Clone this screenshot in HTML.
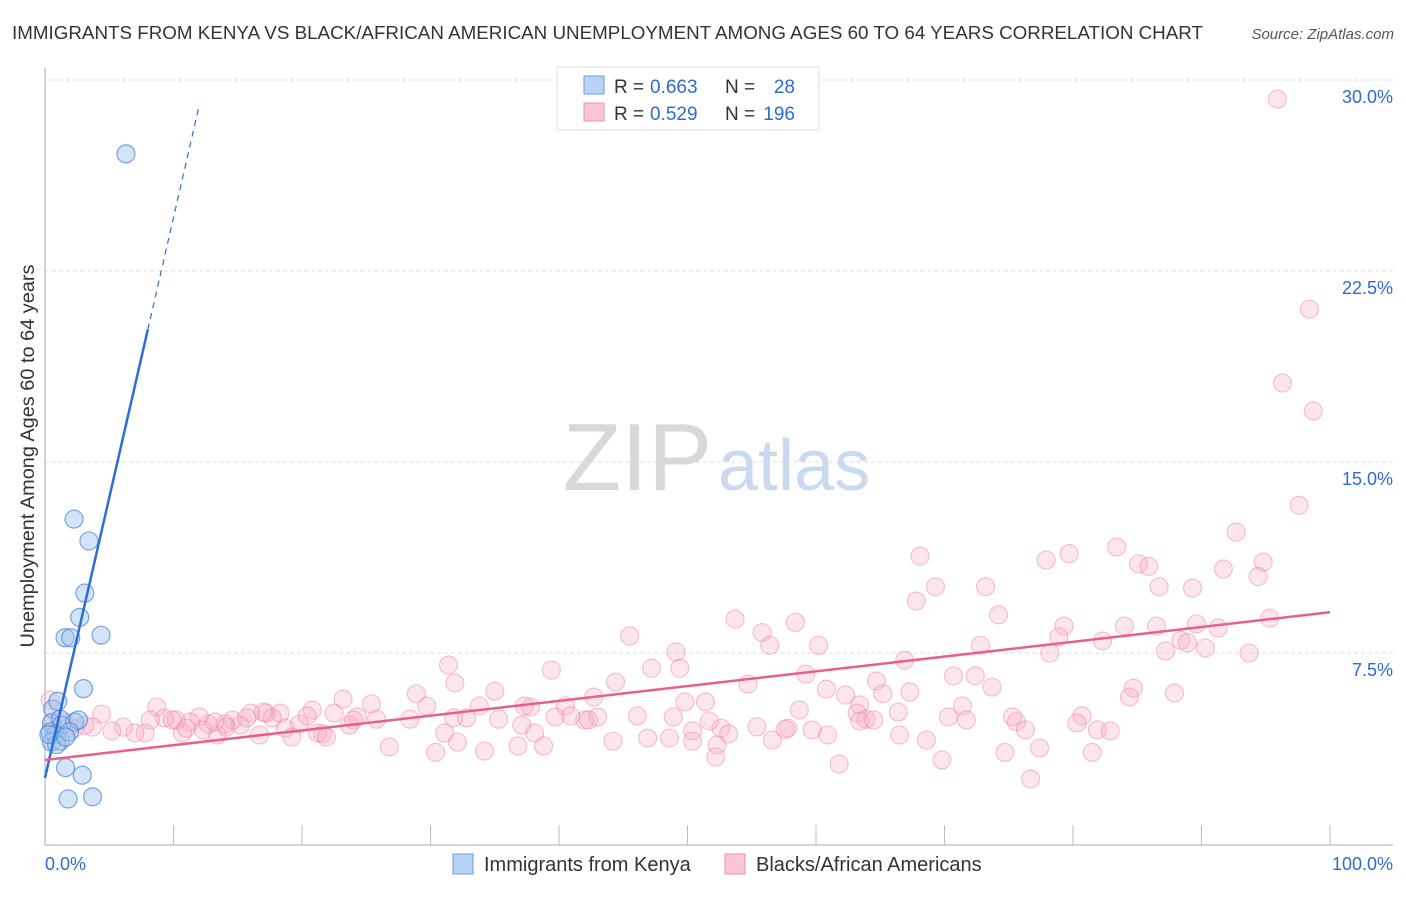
<!DOCTYPE html>
<html><head><meta charset="utf-8"><style>
body{margin:0;background:#fff;font-family:"Liberation Sans",sans-serif}
svg text{font-family:"Liberation Sans",sans-serif}
</style></head><body>
<svg id="chart" width="1406" height="892" xmlns="http://www.w3.org/2000/svg">
<text x="12" y="39" font-size="18" fill="#333" textLength="1191" lengthAdjust="spacingAndGlyphs">IMMIGRANTS FROM KENYA VS BLACK/AFRICAN AMERICAN UNEMPLOYMENT AMONG AGES 60 TO 64 YEARS CORRELATION CHART</text>
<text x="1394" y="39" font-size="15" font-style="italic" fill="#555" text-anchor="end">Source: ZipAtlas.com</text>
<g>
<text x="712" y="490" font-size="96" font-family="Liberation Serif" fill="#d8d8d8" text-anchor="end">ZIP</text>
<text x="718" y="490" font-size="72" fill="#c9daf0">atlas</text>
</g>
<g id="grid"></g><g id="axes"></g><g id="pink"></g><g id="blue"></g><g id="lines"></g>
<g>
<rect x="557" y="67" width="262" height="63" fill="#fff" stroke="#ddd"/>
<rect x="584" y="76" width="20" height="18" fill="#b8d3f5" stroke="#6a9be0"/>
<rect x="584" y="103" width="20" height="18" fill="#fbc5d5" stroke="#ef8fab"/>
<text x="614" y="93" font-size="19" fill="#333">R =</text>
<text x="650" y="93" font-size="19" fill="#2d6bd1">0.663</text>
<text x="725" y="93" font-size="19" fill="#333">N =</text>
<text x="795" y="93" font-size="19" fill="#2d6bd1" text-anchor="end">28</text>
<text x="614" y="120" font-size="19" fill="#333">R =</text>
<text x="650" y="120" font-size="19" fill="#2d6bd1">0.529</text>
<text x="725" y="120" font-size="19" fill="#333">N =</text>
<text x="795" y="120" font-size="19" fill="#2d6bd1" text-anchor="end">196</text>
</g>
<g>
<rect x="453" y="854" width="20" height="20" fill="#b8d3f5" stroke="#6a9be0"/>
<text x="484" y="871" font-size="20" fill="#333">Immigrants from Kenya</text>
<rect x="725" y="854" width="20" height="20" fill="#fbc5d5" stroke="#ef8fab"/>
<text x="756" y="871" font-size="20" fill="#333">Blacks/African Americans</text>
</g>
<text transform="translate(34,456) rotate(-90)" font-size="19" fill="#333" text-anchor="middle" textLength="383" lengthAdjust="spacingAndGlyphs">Unemployment Among Ages 60 to 64 years</text>
</svg>
<script>
const yTicks=[7.5,15,22.5,30];
const yTickLabels=["7.5%","15.0%","22.5%","30.0%"];
const xTickLabels=["0.0%","100.0%"];
const blueX=[6.3,2.26,3.42,3.1,2.7,1.56,2.0,4.36,3.0,0.6,1.0,0.5,1.2,1.3,2.3,2.6,0.4,0.8,0.5,1.2,1.9,0.9,1.6,1.6,2.9,1.8,3.7,0.3];
const blueY=[27.1,12.76,11.9,9.85,8.9,8.1,8.1,8.2,6.1,5.3,5.6,4.75,4.9,4.67,4.79,4.87,4.4,4.3,4.0,4.04,4.4,3.9,4.2,3.0,2.7,1.77,1.85,4.3];
const pinkX=[95.9,98.4,96.3,98.7,97.6,92.7,94.8,94.4,91.7,68.1,77.9,79.7,83.4,85.1,85.9,86.7,89.3,73.2,69.3,67.8,74.2,95.3,89.6,91.3,86.5,84.0,79.3,78.9,82.3,88.4,88.9,87.2,90.3,93.7,78.2,72.8,66.9,64.7,70.7,72.4,73.7,59.2,60.2,58.4,55.8,56.4,53.7,54.7,60.8,62.3,63.4,65.2,67.3,58.7,63.2,63.9,66.4,71.4,70.3,71.7,84.7,84.4,87.9,75.3,75.6,76.3,80.7,80.3,81.9,82.9,81.5,77.4,74.7,76.7,69.8,68.6,61.8,63.4,57.8,55.4,56.6,52.3,52.6,52.2,51.7,50.4,51.4,49.8,49.1,49.4,47.2,45.5,44.4,42.7,43.0,42.0,40.5,40.9,39.7,39.4,37.8,37.3,38.1,38.8,37.1,36.8,35.3,35.0,34.2,33.8,32.8,32.1,31.9,31.4,30.4,29.7,28.9,28.4,26.8,25.8,25.4,23.7,24.3,23.2,22.5,21.6,20.8,19.8,19.2,18.7,18.3,17.7,17.2,16.7,16.0,15.2,14.6,14.0,13.4,12.7,12.0,11.3,10.7,10.2,9.3,8.7,8.2,7.8,7.0,6.1,5.2,4.4,3.7,3.1,2.3,1.4,0.4,0.6,0.9,1.8,9.9,11.0,12.3,13.2,14.1,15.7,17.0,20.4,21.2,21.9,24.0,31.1,31.8,42.3,44.2,46.1,46.9,48.6,48.9,50.4,53.2,57.6,59.7,60.9,64.5,66.5];
const pinkY=[29.25,21.0,18.1,17.0,13.3,12.25,11.07,10.5,10.8,11.3,11.15,11.4,11.66,11.0,10.9,10.1,10.05,10.1,10.1,9.54,9.0,8.87,8.64,8.48,8.56,8.56,8.56,8.13,7.97,8.0,7.9,7.58,7.7,7.5,7.5,7.8,7.22,6.4,6.6,6.6,6.16,6.67,7.8,8.7,8.3,7.8,8.83,6.28,6.08,5.85,5.46,5.9,5.97,5.26,5.14,4.9,5.18,5.42,4.99,4.87,6.12,5.77,5.93,4.99,4.8,4.48,5.03,4.75,4.48,4.44,3.6,3.77,3.6,2.55,3.3,4.08,3.14,4.83,4.55,4.6,4.08,3.89,4.55,3.42,4.83,4.44,5.58,5.58,7.54,6.9,6.9,8.17,6.36,5.77,4.99,4.87,5.42,5.03,4.99,6.83,5.38,5.42,4.36,3.85,4.67,3.85,4.9,6.0,3.65,5.42,4.95,4.0,6.32,7.03,3.6,5.42,5.9,4.9,3.81,4.9,5.5,4.67,4.99,5.69,5.14,4.32,5.26,4.71,4.2,4.55,5.14,4.95,5.14,4.28,5.14,4.67,4.87,4.71,4.28,4.71,4.99,4.79,4.36,4.87,4.95,5.38,4.87,4.36,4.36,4.59,4.44,5.1,4.59,4.67,4.55,4.79,5.65,4.83,4.28,4.55,4.87,4.55,4.48,4.79,4.59,4.95,5.18,5.03,4.36,4.2,4.87,4.36,4.95,4.87,4.04,5.03,4.16,4.16,4.99,4.04,4.32,4.51,4.48,4.28,4.87,4.28];
const blueLine={x0:0,y0:2.6,slope:2.2,solidEnd:8.0,dashEnd:12.0};
const pinkLine={x0:0,y0:3.3,x1:100,y1:9.1};
const NS="http://www.w3.org/2000/svg";
const X=v=>45+v*12.85, Y=v=>844-v*25.467;
function mk(t,a,p){const e=document.createElementNS(NS,t);for(const k in a)e.setAttribute(k,a[k]);document.getElementById(p).appendChild(e);return e;}
yTicks.forEach((t,i)=>{
 const l=mk('line',{x1:45,x2:1393,y1:Y(t),y2:Y(t),stroke:'#ddd','stroke-dasharray':'4,3'},'grid');
 
 
 const tx=mk('text',{x:1393,y:Y(t)+23,'font-size':18,fill:'#2d6bd1','text-anchor':'end'},'axes');
 tx.textContent=yTickLabels[i];
 
 
});
let a=mk('line',{x1:45,x2:45,y1:68,y2:845,stroke:'#aaa'},'axes');

a=mk('line',{x1:45,x2:1393,y1:845,y2:845,stroke:'#aaa'},'axes');

for(let i=1;i<=10;i++){const t=mk('line',{x1:X(i*10),x2:X(i*10),y1:825,y2:845,stroke:'#bbb'},'axes');
 }
[[0,'start',45],[100,'end',1393]].forEach((d,i)=>{const t=mk('text',{x:d[2],y:870,'font-size':18,fill:'#2d6bd1','text-anchor':d[1]},'axes');
 t.textContent=xTickLabels[i];});
pinkX.forEach((x,i)=>{const c=mk('circle',{cx:X(x),cy:Y(pinkY[i]),r:9,fill:'rgba(248,170,195,0.3)',stroke:'rgba(236,130,165,0.5)','stroke-width':1.1},'pink');
 });
blueX.forEach((x,i)=>{const c=mk('circle',{cx:X(x),cy:Y(blueY[i]),r:9,fill:'rgba(160,195,240,0.45)',stroke:'rgba(70,130,215,0.7)','stroke-width':1.2},'blue');
 });
const by=x=>blueLine.y0+blueLine.slope*x;
let l=mk('line',{x1:X(0),y1:Y(by(0)),x2:X(blueLine.solidEnd),y2:Y(by(blueLine.solidEnd)),stroke:'#2a6fd6','stroke-width':2.5},'lines');

l=mk('line',{x1:X(blueLine.solidEnd),y1:Y(by(blueLine.solidEnd)),x2:X(blueLine.dashEnd),y2:Y(by(blueLine.dashEnd)),stroke:'#2a6fd6','stroke-width':1.2,'stroke-dasharray':'6,5'},'lines');

l=mk('line',{x1:X(pinkLine.x0),y1:Y(pinkLine.y0),x2:X(pinkLine.x1),y2:Y(pinkLine.y1),stroke:'#e8608a','stroke-width':2.5},'lines');

</script>
</body></html>
